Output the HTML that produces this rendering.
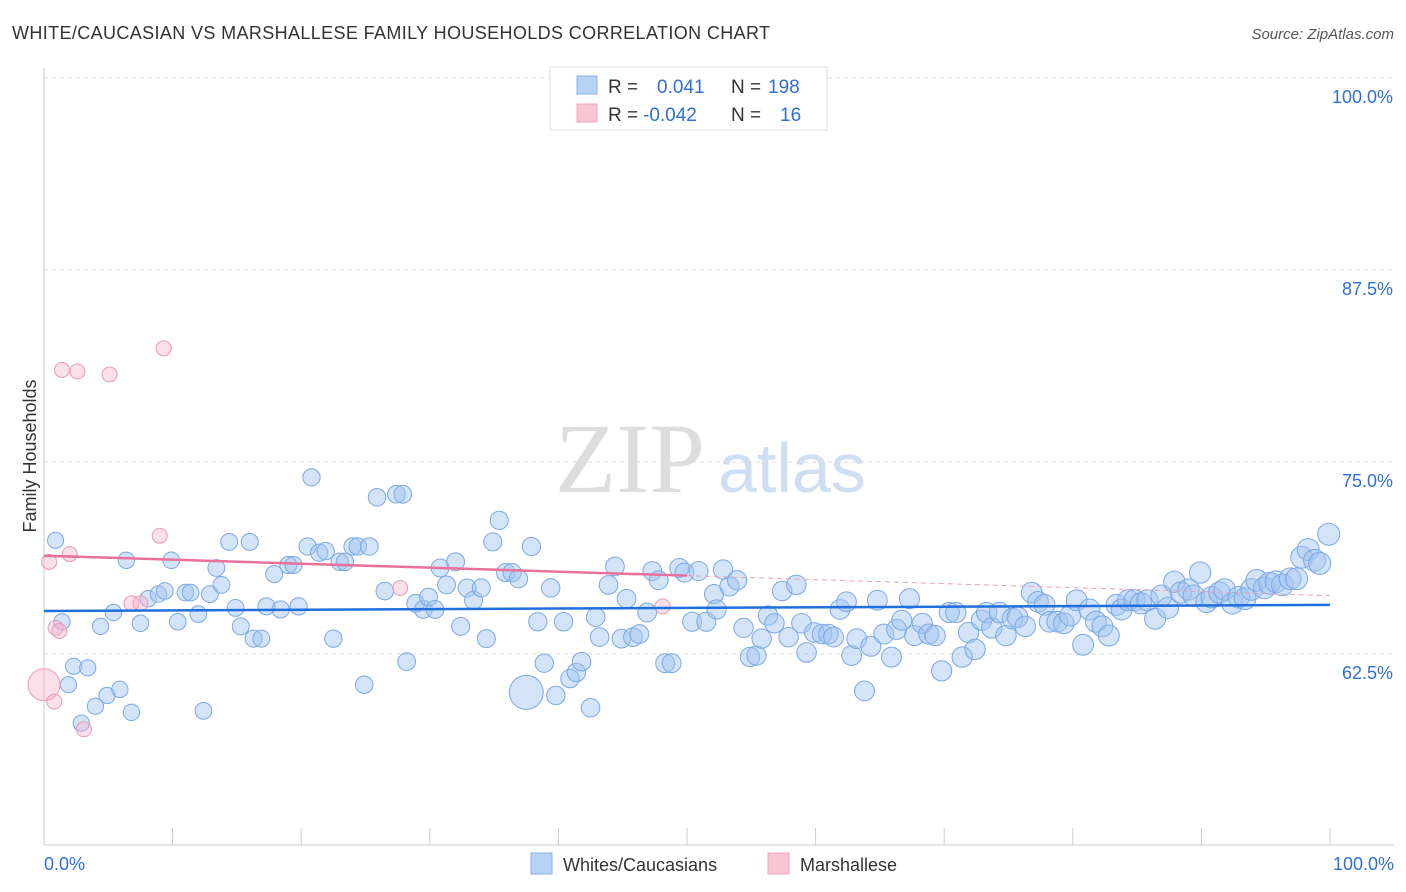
<!DOCTYPE html>
<html><head><meta charset="utf-8"><style>
body{margin:0;background:#fff;font-family:"Liberation Sans",sans-serif;}
.wrap{position:relative;width:1406px;height:892px;overflow:hidden}
</style></head><body>
<div class="wrap">
<svg id="svg" width="1406" height="892" xmlns="http://www.w3.org/2000/svg">
<text x="12" y="39" font-size="18" fill="#333" textLength="758">WHITE/CAUCASIAN VS MARSHALLESE FAMILY HOUSEHOLDS CORRELATION CHART</text>
<text x="1394" y="39" font-size="15" fill="#555" font-style="italic" text-anchor="end">Source: ZipAtlas.com</text>
<text x="36" y="456" font-size="18" fill="#333" text-anchor="middle" transform="rotate(-90 36 456)">Family Households</text>
<text x="555" y="492" font-size="100" fill="#ddd" font-family="Liberation Serif,serif">ZIP</text>
<text x="718" y="492" font-size="70" fill="#cfdff3">atlas</text>
<g id="grid"></g><g id="pts"></g><g id="lines"></g>
<g>
<rect x="550" y="67" width="277" height="63" fill="#fff" stroke="#ddd"/>
<rect x="577" y="76" width="20" height="18" fill="#b8d2f3" stroke="#8ab3e8"/>
<rect x="577" y="104" width="20" height="18" fill="#f9c5d5" stroke="#eea5bd"/>
<text x="608" y="93" font-size="19" fill="#333">R = <tspan x="657" fill="#2f6fd6">0.041</tspan><tspan x="731" fill="#333">N = </tspan><tspan x="768" fill="#2f6fd6">198</tspan></text>
<text x="608" y="121" font-size="19" fill="#333">R = <tspan x="643" fill="#2f6fd6">-0.042</tspan><tspan x="731" fill="#333">N = </tspan><tspan x="780" fill="#2f6fd6">16</tspan></text>
</g>
<g>
<rect x="531" y="853" width="21" height="21" fill="#b8d2f3" stroke="#8ab3e8"/>
<text x="563" y="871" font-size="18" fill="#333">Whites/Caucasians</text>
<rect x="768" y="853" width="21" height="21" fill="#f9c5d5" stroke="#eea5bd"/>
<text x="800" y="871" font-size="18" fill="#333">Marshallese</text>
</g>
</svg>
<script>
const yTicks=[100,87.5,75,62.5];
const yTickLabels=["100.0%","87.5%","75.0%","62.5%"];
const xTickCount=10;
const xEndLabels=["0.0%","100.0%"];
const blue=[[0.9,69.9],[1.4,64.6],[2.3,61.7],[3.4,61.6],[1.9,60.5],[2.9,58.0],[4.0,59.1],[4.9,59.8],[5.9,60.2],[6.8,58.7],[4.4,64.3],[5.4,65.2],[6.4,68.6],[7.5,64.5],[8.1,66.1],[8.9,66.4],[9.4,66.6],[9.9,68.6],[10.4,64.6],[11.0,66.5],[11.4,66.5],[12.0,65.1],[12.4,58.8],[12.9,66.4],[13.4,68.1],[13.8,67.0],[14.4,69.8],[14.9,65.5],[15.3,64.3],[16.0,69.8],[16.3,63.5],[16.9,63.5],[17.3,65.6],[17.9,67.7],[18.4,65.4],[19.0,68.3],[19.4,68.3],[19.8,65.6],[20.5,69.5],[20.8,74.0],[21.4,69.1],[21.9,69.2],[22.5,63.5],[23.0,68.5],[23.4,68.5],[24.0,69.5],[24.4,69.5],[24.9,60.5],[25.3,69.5],[25.9,72.7],[26.5,66.6],[27.4,72.9],[27.9,72.9],[28.2,62.0],[28.9,65.8],[29.5,65.4],[29.9,66.2],[30.4,65.4],[30.8,68.1],[31.3,67.0],[32.0,68.5],[32.4,64.3],[32.9,66.8],[33.4,66.0],[34.0,66.8],[34.4,63.5],[34.9,69.8],[35.4,71.2],[35.9,67.8],[36.4,67.8],[36.9,67.4],[37.5,60.0],[37.9,69.5],[38.4,64.6],[38.9,61.9],[39.4,66.8],[39.8,59.8],[40.4,64.6],[40.9,60.9],[41.4,61.3],[41.8,62.0],[42.5,59.0],[42.9,64.9],[43.2,63.6],[43.9,67.0],[44.4,68.2],[44.9,63.5],[45.3,66.1],[45.8,63.6],[46.3,63.8],[46.9,65.2],[47.3,67.9],[47.8,67.3],[48.3,61.9],[48.8,61.9],[49.4,68.1],[49.8,67.8],[50.4,64.6],[50.9,67.9],[51.5,64.6],[52.1,66.4],[52.3,65.4],[52.8,68.0],[53.3,66.9],[53.9,67.3],[54.4,64.2],[54.9,62.3],[55.4,62.4],[55.8,63.5],[56.3,65.0],[56.8,64.5],[57.4,66.6],[57.9,63.6],[58.5,67.0],[58.9,64.5],[59.3,62.6],[59.9,63.9],[60.5,63.8],[61.0,63.8],[61.4,63.6],[61.9,65.4],[62.4,65.9],[62.8,62.4],[63.2,63.5],[63.8,60.1],[64.3,63.0],[64.8,66.0],[65.3,63.8],[65.9,62.3],[66.3,64.1],[66.7,64.7],[67.3,66.1],[67.7,63.7],[68.3,64.5],[68.8,63.8],[69.3,63.7],[69.8,61.4],[70.4,65.2],[70.9,65.2],[71.4,62.3],[71.9,63.9],[72.4,62.8],[72.9,64.7],[73.3,65.2],[73.7,64.2],[74.3,65.2],[74.8,63.7],[75.3,64.8],[75.7,64.9],[76.3,64.3],[76.8,66.5],[77.3,65.9],[77.8,65.7],[78.2,64.6],[78.8,64.6],[79.3,64.5],[79.8,65.0],[80.3,66.0],[80.8,63.1],[81.3,65.4],[81.8,64.6],[82.3,64.3],[82.8,63.7],[83.4,65.7],[83.8,65.4],[84.3,66.0],[84.8,66.0],[85.3,65.8],[85.8,66.0],[86.4,64.8],[86.9,66.3],[87.4,65.5],[87.9,67.2],[88.4,66.5],[89.0,66.7],[89.4,66.3],[89.9,67.8],[90.4,65.9],[90.8,66.2],[91.4,66.5],[91.8,66.7],[92.4,65.8],[92.9,66.2],[93.4,66.1],[93.9,66.7],[94.3,67.3],[94.9,66.8],[95.3,67.1],[95.8,67.2],[96.3,67.0],[96.9,67.4],[97.4,67.4],[97.8,68.8],[98.3,69.3],[98.8,68.6],[99.2,68.4],[99.9,70.3]];
const pink=[[0.4,68.5],[0,60.5],[0.8,59.4],[0.9,64.2],[1.2,64.0],[1.4,81.0],[2.0,69.0],[2.6,80.9],[3.1,57.6],[5.1,80.7],[6.8,65.8],[7.5,65.8],[9.0,70.2],[9.3,82.4],[27.7,66.8],[48.1,65.6]];
const blueTrend=[65.3,65.7];
const pinkTrend=[68.9,66.3];
const pinkSolidEnd=50;
const X=v=>44+v*12.86, Y=v=>78+(100-v)*15.36;
const NS="http://www.w3.org/2000/svg";
function mk(parent,tag,attrs){const e=document.createElementNS(NS,tag);for(const k in attrs)e.setAttribute(k,attrs[k]);document.getElementById(parent).appendChild(e);return e;}
yTicks.forEach((t,i)=>{
 const l=mk('grid','line',{x1:44,x2:1394,y1:Y(t),y2:Y(t),stroke:'#ddd','stroke-dasharray':'4 4'});
 
 
 const tx=mk('grid','text',{x:1393,y:Y(t)+25,'font-size':18,fill:'#2f6fd6','text-anchor':'end'});tx.textContent=yTickLabels[i];
 
 
});
const ax=mk('grid','line',{x1:44,x2:1394,y1:845,y2:845,stroke:'#ccc'});


const ay=mk('grid','line',{x1:44,x2:44,y1:68,y2:845,stroke:'#ccc'});


for(let i=0;i<=xTickCount;i++){const v=i*100/xTickCount;const t=mk('grid','line',{x1:X(v),x2:X(v),y1:828,y2:845,stroke:'#ccc'});
 
 }
[[0,'start',44],[1,'end',1394]].forEach(([i,a,x])=>{const t=mk('grid','text',{x:x,y:870,'font-size':18,fill:'#2f6fd6','text-anchor':a});t.textContent=xEndLabels[i];
 
 });
blue.forEach(p=>{const r=(p[0]>37&&p[0]<38&&p[1]<61)?17:8+3*p[0]/100;
 const c=mk('pts','circle',{cx:X(p[0]),cy:Y(p[1]),r:r,fill:'rgba(160,196,240,0.45)',stroke:'#7aa8e4','stroke-width':1});
 
 });
pink.forEach(p=>{const r=p[0]===0?16:7.5;
 const c=mk('pts','circle',{cx:X(p[0]),cy:Y(p[1]),r:r,fill:'rgba(245,175,200,0.4)',stroke:'#ea9ab8','stroke-width':1});
 
 });
const bl=mk('lines','line',{x1:X(0),x2:X(100),y1:Y(blueTrend[0]),y2:Y(blueTrend[1]),stroke:'#1f6fdc','stroke-width':2.5});


const pm=pinkTrend[0]+(pinkTrend[1]-pinkTrend[0])*pinkSolidEnd/100;
const pl=mk('lines','line',{x1:X(0),x2:X(pinkSolidEnd),y1:Y(pinkTrend[0]),y2:Y(pm),stroke:'#e8709a','stroke-width':2.5});


const pd=mk('lines','line',{x1:X(pinkSolidEnd),x2:X(100),y1:Y(pm),y2:Y(pinkTrend[1]),stroke:'#e8a0b8','stroke-width':1,'stroke-dasharray':'5 4'});


</script>
</div></body></html>
